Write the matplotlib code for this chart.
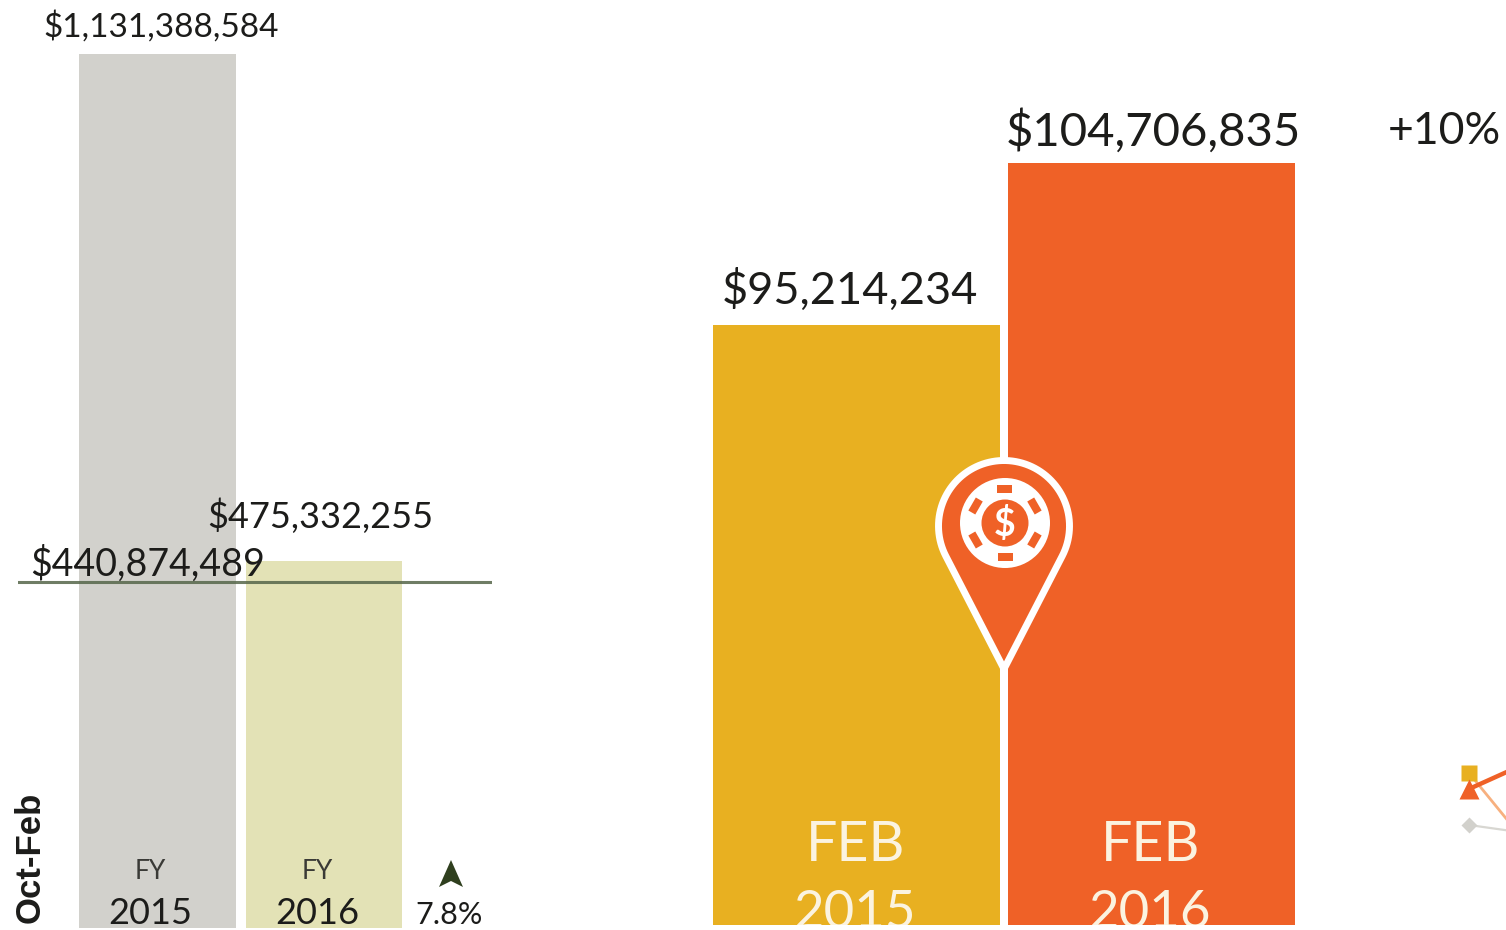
import numpy as np
import matplotlib
matplotlib.use("Agg")
import matplotlib.pyplot as plt
from matplotlib.path import Path
from matplotlib.patches import PathPatch, Circle, Rectangle
from matplotlib.transforms import Affine2D

plt.rcParams['font.family'] = ['Lato', 'DejaVu Sans']

# ---- data ----
fy_years = ['2015', '2016']
fy_values = [1131388584, 475332255]
fy_labels = ['$1,131,388,584', '$475,332,255']
fy_reference_label = '$440,874,489'
fy_reference_drawn = 448000000
fy_change = '7.8%'

feb_years = ['2015', '2016']
feb_values = [95214234, 104706835]
feb_labels = ['$95,214,234', '$104,706,835']
feb_change = '+10%'

trend_x = [0, 1]
trend_yellow = [77, -10]
trend_orange = [61, 93]
trend_grey = [25, 15]

W, H = 1506, 930
TEXT = '#1c1c1a'
GREY, GREEN, YELLOW, ORANGE = '#D2D1CC', '#E3E2B6', '#E8B021', '#EF6127'

fig = plt.figure(figsize=(W / 100, H / 100), dpi=100, facecolor='white')


def axes_px(x0, y0, x1, y1):
    ax = fig.add_axes([x0 / W, 1 - y1 / H, (x1 - x0) / W, (y1 - y0) / H])
    ax.axis('off')
    ax.patch.set_alpha(0)
    return ax


# ---- left: Oct-Feb bars ----
ax1 = axes_px(18, 40, 492, 928)
spacing1 = 166.5
ax1.set_xlim((18 - 157.5) / spacing1, (492 - 157.5) / spacing1)
scale1 = fy_values[0] / 874
ax1.set_ylim(0, 888 * scale1)
ax1.bar([0, 1], fy_values, width=0.94, color=[GREY, GREEN])
ax1.axhline(fy_reference_drawn, color='#56664A', lw=2.2, alpha=0.85)
ax1.annotate(fy_labels[0], (0, fy_values[0]), xytext=(2.5, 20), textcoords='offset points',
             ha='center', va='center', fontsize=24, color=TEXT, annotation_clip=False)
ax1.annotate(fy_labels[1], (1, fy_values[1]), xytext=(-3, 32), textcoords='offset points',
             ha='center', va='center', fontsize=26, color=TEXT)
ax1.annotate(fy_reference_label, (0, fy_reference_drawn), xytext=(-7, 13), textcoords='offset points',
             ha='center', va='center', fontsize=27, color=TEXT)
for i, yr in enumerate(fy_years):
    ax1.annotate('FY', (i, 0), xytext=(-5, 40.5), textcoords='offset points',
                 ha='center', va='center', fontsize=19, color='#3a3a36')
    ax1.annotate(yr, (i, 0), xytext=(-5, 10.5), textcoords='offset points',
                 ha='center', va='center', fontsize=26, color=TEXT)

# ---- middle: February bars (axis starts above zero) ----
ax2 = axes_px(700, 100, 1310, 925)
spacing2 = 295
ax2.set_xlim((700 - 856.5) / spacing2, (1310 - 856.5) / spacing2)
per_px = (feb_values[1] - feb_values[0]) / 162
base2 = feb_values[0] - 600 * per_px
ax2.set_ylim(base2, base2 + 825 * per_px)
ax2.bar([0, 1], feb_values, bottom=0, width=0.973, color=[YELLOW, ORANGE])
ax2.annotate(feb_labels[0], (0, feb_values[0]), xytext=(-5, 25), textcoords='offset points',
             ha='center', va='center', fontsize=32.5, color=TEXT)
ax2.annotate(feb_labels[1], (1, feb_values[1]), xytext=(1, 23), textcoords='offset points',
             ha='center', va='center', fontsize=34, color=TEXT)
ax2.annotate(feb_change, (1, feb_values[1]), xytext=(211, 23), textcoords='offset points',
             ha='center', va='center', fontsize=32, color=TEXT, annotation_clip=False)
for i, yr in enumerate(feb_years):
    ax2.annotate('FEB', (i, base2), xytext=(-1, 57), textcoords='offset points',
                 ha='center', va='center', fontsize=40, color='#FBF3E0')
    t = ax2.annotate(yr, (i, base2), xytext=(-1, 8.5), textcoords='offset points',
                     ha='center', va='center', fontsize=38, color='#FBF3E0')
    t.set_clip_on(True)
    t.set_clip_box(ax2.bbox)

# ---- right edge: start of the trend lines ----
ax3 = axes_px(1455, 740, 1506, 850)
ax3.set_xlim(-14 / 71, 37 / 71)
ax3.set_ylim(0, 110)
ax3.plot(trend_x, trend_yellow, color='#F7B07F', lw=2.0, zorder=2)
ax3.plot(trend_x, trend_grey, color='#D8D7D2', lw=1.6,
         marker='D', ms=8, markerfacecolor='#D2D1CC', markeredgecolor='none', zorder=2)
ax3.plot(trend_x, trend_orange, color=ORANGE, lw=3.2,
         marker='^', ms=15, markeredgecolor='none', zorder=4)
ax3.plot(trend_x[:1], trend_yellow[:1], color=YELLOW, marker='s', ms=12,
         markeredgecolor='none', zorder=3)

# ---- icons and side text, in pixel space ----
ov = fig.add_axes([0, 0, 1, 1])
ov.set_xlim(0, W)
ov.set_ylim(H, 0)
ov.axis('off')
ov.patch.set_alpha(0)

# map pin
cx, cy, r, tip = 1004, 526, 65.5, 669
d = tip - cy
a = np.arccos(r / d)
th = np.linspace(np.pi / 2 + a, 2.5 * np.pi - a, 80)
px = cx + r * np.cos(th)
py = cy + r * np.sin(th)
verts = np.vstack([[cx, tip], np.column_stack([px, py]), [cx, tip]])
codes = [Path.MOVETO] + [Path.LINETO] * (len(verts) - 2) + [Path.CLOSEPOLY]
ov.add_patch(PathPatch(Path(verts, codes), fc=ORANGE, ec='white', lw=5.0, joinstyle='round', zorder=5))
chip = (1005, 523)
ov.add_patch(Circle(chip, 45, fc='white', ec='none', zorder=6))
for ang in (90, 30, 150, 210, 270, 330):
    rad = np.deg2rad(ang)
    mx = chip[0] + 34 * np.cos(rad)
    my = chip[1] - 34 * np.sin(rad)
    tr = Affine2D().rotate_deg_around(mx, my, 90 - ang) + ov.transData
    ov.add_patch(Rectangle((mx - 7.5, my - 4), 15, 8, fc=ORANGE, ec='none', zorder=7, transform=tr))
ov.add_patch(Circle(chip, 23.5, fc=ORANGE, ec='none', zorder=7))
ov.text(chip[0], chip[1] + 1, '$', color='white', fontsize=27, fontweight='bold',
        ha='center', va='center', zorder=8)

# up arrow
arrow = np.array([[451, 860], [463, 887], [451, 881], [439, 887], [451, 860]])
ov.add_patch(PathPatch(Path(arrow, [Path.MOVETO] + [Path.LINETO] * 3 + [Path.CLOSEPOLY]),
                       fc='#2F3F1E', ec='none', zorder=5))
ov.text(449, 915, fy_change, fontsize=22, color=TEXT, ha='center', va='center')
ov.text(30, 857, 'Oct-Feb', rotation=90, fontsize=25, fontweight='bold', color=TEXT,
        ha='center', va='center', family=['Liberation Sans', 'DejaVu Sans'])

fig.savefig('out.png', dpi=100, facecolor='white')
